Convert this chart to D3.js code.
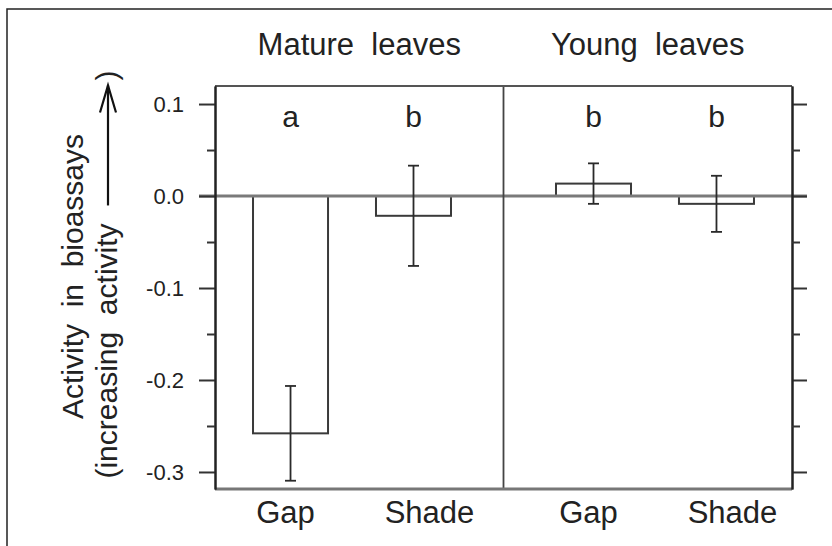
<!DOCTYPE html>
<html>
<head>
<meta charset="utf-8">
<script src="https://cdn.jsdelivr.net/npm/d3@7"></script>
<style>
  body { margin: 0; background: #fff; }
  text { font-family: "Liberation Sans", Arial, Helvetica, sans-serif; fill: #222; }
</style>
</head>
<body>
<div id="chart"></div>
<script>
/*
*    main.js
*/

// ===== DATOS =====
const groups = ["Mature leaves", "Young leaves"];
const treatments = ["Gap", "Shade"];
const matureMeans = [-0.258, -0.0215];
const youngMeans = [0.0135, -0.0085];
const matureSE = [0.0515, 0.0545];
const youngSE = [0.022, 0.0305];
const matureLetters = ["a", "b"];
const youngLetters = ["b", "b"];
const yTicks = [-0.3, -0.2, -0.1, 0.0, 0.1];
const yMinorTicks = [-0.25, -0.15, -0.05, 0.05];
const yTickLabels = ["-0.3", "-0.2", "-0.1", "0.0", "0.1"];
const yDomain = [-0.3185, 0.1196];

const means = [matureMeans, youngMeans];
const errors = [matureSE, youngSE];
const letters = [matureLetters, youngLetters];

const data = groups.flatMap((g, i) => treatments.map((t, j) => ({
	group: g,
	gi: i,
	treatment: t,
	mean: means[i][j],
	se: errors[i][j],
	letter: letters[i][j]
})));

barChart("#chart", data);

function barChart(container, data) {

	const width = 832;
	const height = 546;

	const margin = {
		left: 215,
		right: 40,
		top: 86,
		bottom: 57
	};

	const innerWidth = width - margin.left - margin.right;
	const innerHeight = height - margin.top - margin.bottom;

	const svg = d3.select(container)
		.append("svg")
		.attr("width", width)
		.attr("height", height);

	svg.append("rect")
		.attr("width", width)
		.attr("height", height)
		.attr("fill", "#fff");

	// marco exterior
	svg.append("path")
		.attr("d", `M7,${height} L7,9 L${width},9`)
		.attr("fill", "none")
		.attr("stroke", "#222")
		.attr("stroke-width", 1.5);

	const g = svg.append("g")
		.attr("transform", `translate(${margin.left}, ${margin.top})`);

	// escalas
	const x0 = d3.scaleBand()
		.domain(groups)
		.range([0, innerWidth])
		.padding(0);

	const inner = groups.map((grp, i) => d3.scaleBand()
		.domain(treatments)
		.range([0, x0.bandwidth()])
		.paddingInner(0.39)
		.paddingOuter(0.368)
		.align(i === 0 ? 0.42 : 0.58));

	const xBar = d => x0(d.group) + inner[d.gi](d.treatment);
	const bw = inner[0].bandwidth();

	const y = d3.scaleLinear()
		.domain(yDomain)
		.range([innerHeight, 0]);

	// barras
	g.append("g")
		.selectAll("rect")
		.data(data)
		.enter()
		.append("rect")
		.attr("x", d => xBar(d))
		.attr("y", d => y(Math.max(0, d.mean)))
		.attr("width", bw)
		.attr("height", d => Math.abs(y(d.mean) - y(0)))
		.attr("fill", "#fff")
		.attr("stroke", "#3a3a3a")
		.attr("stroke-width", 2);

	// linea del cero
	g.append("line")
		.attr("x1", -16)
		.attr("x2", innerWidth + 15)
		.attr("y1", y(0))
		.attr("y2", y(0))
		.attr("stroke", "#7a7a7a")
		.attr("stroke-width", 3);

	// separador de grupos
	g.append("line")
		.attr("x1", x0(groups[1]))
		.attr("x2", x0(groups[1]))
		.attr("y1", 0)
		.attr("y2", innerHeight)
		.attr("stroke", "#444")
		.attr("stroke-width", 1.8);

	// barras de error
	const capW = 5.5;
	const err = g.append("g")
		.selectAll("g")
		.data(data)
		.enter()
		.append("g")
		.attr("transform", d => `translate(${xBar(d) + bw / 2},0)`)
		.attr("stroke", "#2a2a2a")
		.attr("stroke-width", 1.8);

	err.append("line")
		.attr("y1", d => y(d.mean + d.se))
		.attr("y2", d => y(d.mean - d.se));

	err.append("line")
		.attr("x1", -capW).attr("x2", capW)
		.attr("y1", d => y(d.mean + d.se))
		.attr("y2", d => y(d.mean + d.se));

	err.append("line")
		.attr("x1", -capW).attr("x2", capW)
		.attr("y1", d => y(d.mean - d.se))
		.attr("y2", d => y(d.mean - d.se));

	// caja: arriba y abajo
	g.append("line")
		.attr("x1", 0).attr("x2", innerWidth)
		.attr("y1", 0).attr("y2", 0)
		.attr("stroke", "#555")
		.attr("stroke-width", 2);

	g.append("line")
		.attr("x1", 0).attr("x2", innerWidth)
		.attr("y1", innerHeight).attr("y2", innerHeight)
		.attr("stroke", "#777")
		.attr("stroke-width", 3);

	// Axis Y izquierdo
	const axisL = g.append("g")
		.call(d3.axisLeft(y)
			.tickValues(yTicks)
			.tickFormat((d, i) => yTickLabels[i])
			.tickSize(16)
			.tickSizeOuter(0)
			.tickPadding(15));

	axisL.selectAll("text")
		.attr("font-size", 22)
		.attr("fill", "#222");

	g.append("g")
		.call(d3.axisLeft(y)
			.tickValues(yMinorTicks)
			.tickFormat("")
			.tickSize(8)
			.tickSizeOuter(0));

	// Axis Y derecho (sin etiquetas)
	const axisR = g.append("g")
		.attr("transform", `translate(${innerWidth},0)`);

	axisR.call(d3.axisRight(y)
		.tickValues(yTicks)
		.tickFormat("")
		.tickSize(15)
		.tickSizeOuter(0));

	axisR.append("g")
		.call(d3.axisRight(y)
			.tickValues(yMinorTicks)
			.tickFormat("")
			.tickSize(8)
			.tickSizeOuter(0));

	g.selectAll(".domain")
		.attr("stroke", "#222")
		.attr("stroke-width", 2);

	g.selectAll(".tick line")
		.attr("stroke", "#333")
		.attr("stroke-width", 2);

	// titulos de grupo
	g.selectAll(".group-title")
		.data(groups)
		.enter()
		.append("text")
		.attr("class", "group-title")
		.attr("x", d => x0(d) + x0.bandwidth() / 2)
		.attr("y", -31)
		.attr("text-anchor", "middle")
		.attr("font-size", 31)
		.style("white-space", "pre")
		.text(d => d.replace(" ", "  "));

	// letras de significancia
	g.selectAll(".letter")
		.data(data)
		.enter()
		.append("text")
		.attr("class", "letter")
		.attr("x", d => xBar(d) + bw / 2)
		.attr("y", 41)
		.attr("text-anchor", "middle")
		.attr("font-size", 30)
		.text(d => d.letter);

	// etiquetas de tratamiento
	g.selectAll(".cat")
		.data(data)
		.enter()
		.append("text")
		.attr("class", "cat")
		.attr("x", d => xBar(d) + bw / 2)
		.attr("dx", d => d.treatment === "Shade" ? 16 : -5)
		.attr("y", innerHeight + 34)
		.attr("text-anchor", "middle")
		.attr("font-size", 31)
		.text(d => d.treatment);

	// ===== TITULO EJE Y =====
	const yMid = margin.top + innerHeight / 2 - 11;

	svg.append("text")
		.attr("transform", `translate(83, ${yMid}) rotate(-90)`)
		.attr("text-anchor", "middle")
		.attr("font-size", 30)
		.style("white-space", "pre")
		.text("Activity  in  bioassays");

	// segunda linea con flecha
	const line2 = svg.append("g")
		.attr("transform", `translate(117, ${yMid - 2}) rotate(-90)`);

	const t1 = line2.append("text")
		.attr("font-size", 30)
		.style("white-space", "pre")
		.text("(increasing  activity");

	const t2 = line2.append("text")
		.attr("font-size", 30)
		.text(")");

	const len1 = t1.node().getComputedTextLength();
	const len2 = t2.node().getComputedTextLength();
	const gap1 = 18, arrowLen = 120, gap2 = 5;
	const total = len1 + gap1 + arrowLen + gap2 + len2;
	const start = -total / 2;

	t1.attr("x", start);
	const a0 = start + len1 + gap1;
	const a1 = a0 + arrowLen;
	t2.attr("x", a1 + gap2);

	line2.append("line")
		.attr("x1", a0).attr("x2", a1)
		.attr("y1", -9).attr("y2", -9)
		.attr("stroke", "#111")
		.attr("stroke-width", 2.2);

	line2.append("path")
		.attr("d", `M${a1 - 27},${-9 - 8} L${a1},-9 L${a1 - 27},${-9 + 8}`)
		.attr("fill", "none")
		.attr("stroke", "#111")
		.attr("stroke-width", 2.2);
}
</script>
</body>
</html>
